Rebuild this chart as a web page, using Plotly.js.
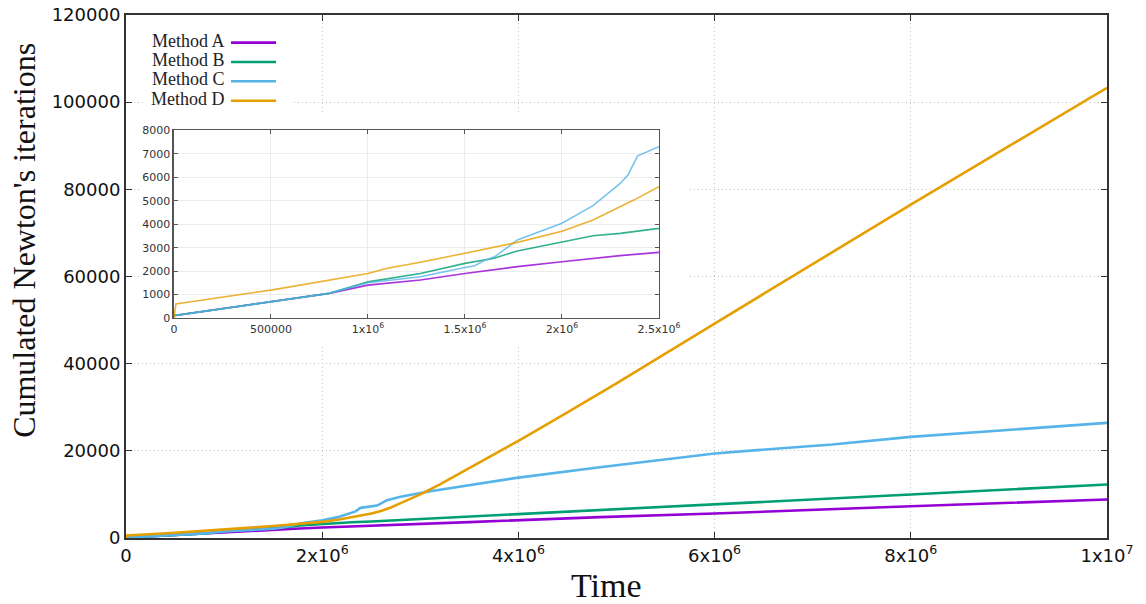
<!DOCTYPE html>
<html><head><meta charset="utf-8">
<script src="https://cdn.plot.ly/plotly-3.0.1.min.js"></script>
<style>html,body{margin:0;padding:0;background:#fff}#chart{width:1146px;height:604px}</style>
</head><body><div id="chart"></div>
<script>
// ---- data ----
const methodNames = ['Method A', 'Method B', 'Method C', 'Method D'];

const timeA  = [0, 5e5, 8e5, 1.0e6, 1.27e6, 1.5e6, 1.77e6, 2.0e6, 2.16e6, 2.3e6, 2.5e6, 3.5e6, 4.83e6, 6.0e6, 8.0e6, 1.0e7];
const itersA = [100, 700, 1050, 1400, 1620, 1900, 2190, 2400, 2550, 2660, 2800, 3650, 4800, 5620, 7290, 8830];

const timeB  = [0, 5e5, 8e5, 1.0e6, 1.27e6, 1.5e6, 1.65e6, 1.77e6, 2.0e6, 2.16e6, 2.3e6, 2.5e6, 3.5e6, 4.83e6, 6.0e6, 8.0e6, 1.0e7];
const itersB = [100, 700, 1050, 1540, 1900, 2330, 2550, 2860, 3230, 3510, 3610, 3800, 4900, 6380, 7680, 9980, 12270];

const timeC  = [0, 5e5, 8e5, 1.0e6, 1.27e6, 1.5e6, 1.55e6, 1.6e6, 1.655e6, 1.77e6, 1.835e6, 2.0e6, 2.16e6, 2.3e6, 2.34e6, 2.39e6, 2.5e6, 2.56e6, 2.66e6, 2.8e6, 3.07e6, 3.47e6, 3.98e6, 4.83e6, 6.0e6, 6.4e6, 7.2e6, 8.0e6, 1.0e7];
const itersC = [100, 700, 1050, 1500, 1760, 2150, 2230, 2450, 2620, 3330, 3540, 4040, 4790, 5740, 6100, 6920, 7310, 7450, 8670, 9450, 10600, 12040, 13800, 16240, 19380, 20100, 21440, 23200, 26420];

const timeD  = [0, 1e4, 5e5, 8.4e5, 1.0e6, 1.1e6, 1.27e6, 1.5e6, 1.77e6, 2.0e6, 2.16e6, 2.37e6, 2.5e6, 2.6e6, 2.7e6, 2.8e6, 3.0e6, 3.2e6, 3.5e6, 4.0e6, 4.5e6, 5.0e6, 6.0e6, 7.0e6, 8.0e6, 9.0e6, 1.0e7];
const itersD = [0, 600, 1190, 1660, 1900, 2120, 2375, 2760, 3225, 3700, 4180, 5030, 5600, 6200, 7000, 8000, 10000, 12300, 16000, 22300, 28800, 35500, 49200, 62900, 76500, 89900, 103300];

const colors = ['#9400D3', '#009E73', '#56B4E9', '#E69F00'];

const xTickVals = [0, 2e6, 4e6, 6e6, 8e6, 1e7];
const xTickText = ['0', '2x10<sup>6</sup>', '4x10<sup>6</sup>', '6x10<sup>6</sup>', '8x10<sup>6</sup>', '1x10<sup>7</sup>'];
const yTickVals = [0, 20000, 40000, 60000, 80000, 100000, 120000];

const insetXTickVals = [0, 5e5, 1e6, 1.5e6, 2e6, 2.5e6];
const insetXTickText = ['0', '500000', '1x10<sup>6</sup>', '1.5x10<sup>6</sup>', '2x10<sup>6</sup>', '2.5x10<sup>6</sup>'];
const insetYTickVals = [0, 1000, 2000, 3000, 4000, 5000, 6000, 7000, 8000];

const xTitle = 'Time';
const yTitle = "Cumulated Newton's iterations";

// ---- traces ----
const times = [timeA, timeB, timeC, timeD];
const iters = [itersA, itersB, itersC, itersD];
const traces = [];
for (let i = 0; i < 4; i++) {
  traces.push({x: times[i], y: iters[i], name: methodNames[i], type: 'scatter', mode: 'lines',
    line: {color: colors[i], width: 2.6}, xaxis: 'x', yaxis: 'y', showlegend: false, hoverinfo: 'skip'});
}
for (let i = 0; i < 4; i++) {
  traces.push({x: times[i], y: iters[i], name: methodNames[i], type: 'scatter', mode: 'lines',
    line: {color: colors[i], width: 1.6}, opacity: 0.8, xaxis: 'x2', yaxis: 'y2', showlegend: false, hoverinfo: 'skip'});
}

// ---- layout ----
const tickFont = {family: 'DejaVu Sans', size: 18, color: '#111'};
const insetFont = {family: 'DejaVu Sans', size: 11, color: '#333'};
const serif = 'Liberation Serif, Times New Roman, serif';

const shapes = [
  // white backing behind inset (hides main grid)
  {type: 'rect', xref: 'x', yref: 'y', x0: 1.4e5, x1: 5.75e6, y0: 44300, y1: 97700,
   fillcolor: '#ffffff', line: {width: 0}, layer: 'between'},
  // white backing behind legend
  {type: 'rect', xref: 'x', yref: 'y', x0: 2.0e5, x1: 1.7e6, y0: 98500, y1: 119500,
   fillcolor: '#ffffff', line: {width: 0}, layer: 'between'}
];
const annotations = [];
const legendLineY = [0.9471, 0.9101, 0.8732, 0.8361];
for (let i = 0; i < 4; i++) {
  shapes.push({type: 'line', xref: 'paper', yref: 'paper', x0: 0.1070, x1: 0.1529,
    y0: legendLineY[i], y1: legendLineY[i], line: {color: colors[i], width: 2.6}, layer: 'above'});
  annotations.push({xref: 'paper', yref: 'paper', x: 0.1030, y: legendLineY[i] + 0.004,
    xanchor: 'right', yanchor: 'middle', showarrow: false, text: methodNames[i],
    font: {family: serif, size: 18, color: '#222'}});
}
annotations.push({xref: 'paper', yref: 'paper', x: 0.490, y: -0.0899, xanchor: 'center', yanchor: 'middle',
  showarrow: false, text: xTitle, font: {family: serif, size: 34, color: '#111'}});
annotations.push({xref: 'paper', yref: 'paper', x: -0.104, y: 0.57, xanchor: 'center', yanchor: 'middle',
  textangle: -90, showarrow: false, text: yTitle, font: {family: serif, size: 32, color: '#111'}});

const layout = {
  width: 1146, height: 604,
  margin: {l: 126, r: 39, t: 15, b: 66},
  paper_bgcolor: '#fff', plot_bgcolor: '#fff',
  showlegend: false,
  xaxis: {
    range: [0, 1e7], domain: [0, 1], anchor: 'y',
    tickvals: xTickVals, ticktext: xTickText, tickfont: tickFont,
    showline: true, linecolor: '#333', linewidth: 2, mirror: 'allticks',
    ticks: 'inside', ticklen: 6, tickwidth: 1, tickcolor: '#333',
    showgrid: true, gridcolor: '#c4c4c4', griddash: '1px,3px', gridwidth: 1, zeroline: false
  },
  yaxis: {
    range: [0, 120000], domain: [0, 1], anchor: 'x',
    tickvals: yTickVals, tickformat: 'd', tickfont: tickFont,
    showline: true, linecolor: '#333', linewidth: 2, mirror: 'allticks',
    ticks: 'inside', ticklen: 6, tickwidth: 1, tickcolor: '#333',
    showgrid: true, gridcolor: '#c4c4c4', griddash: '1px,3px', gridwidth: 1, zeroline: false
  },
  xaxis2: {
    range: [0, 2.5e6], domain: [0.0489, 0.5433], anchor: 'y2',
    tickvals: insetXTickVals, ticktext: insetXTickText, tickfont: insetFont,
    showline: true, linecolor: '#555', linewidth: 1.5, mirror: 'allticks',
    ticks: 'inside', ticklen: 4, tickwidth: 1, tickcolor: '#555',
    showgrid: true, gridcolor: '#ececec', gridwidth: 1, zeroline: false
  },
  yaxis2: {
    range: [0, 8000], domain: [0.4207, 0.7792], anchor: 'x2',
    tickvals: insetYTickVals, tickformat: 'd', tickfont: insetFont,
    showline: true, linecolor: '#555', linewidth: 1.5, mirror: 'allticks',
    ticks: 'inside', ticklen: 4, tickwidth: 1, tickcolor: '#555',
    showgrid: true, gridcolor: '#ececec', gridwidth: 1, zeroline: false
  },
  shapes: shapes,
  annotations: annotations
};

Plotly.newPlot('chart', traces, layout, {staticPlot: true, displayModeBar: false});
</script>
</body></html>
